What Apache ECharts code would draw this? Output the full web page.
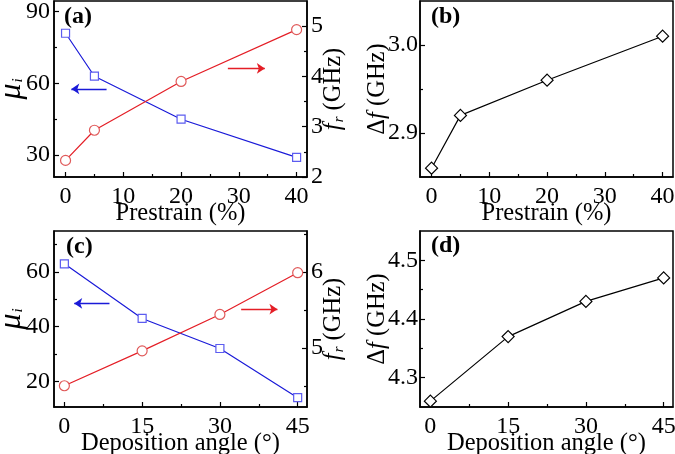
<!DOCTYPE html>
<html><head><meta charset="utf-8">
<script src="https://cdn.jsdelivr.net/npm/echarts@6/dist/echarts.min.js"></script>
<style>html,body{margin:0;padding:0;background:#fff}#c{width:675px;height:454px}</style>
</head><body><div id="c"></div>
<script>
// ---- data ----
const prestrain = [0, 5, 20, 40];
const muA = [81, 63, 45, 29];
const frA = [2.33, 2.93, 3.9, 4.93];
const dfB = [2.86, 2.92, 2.96, 3.01];
const angle = [0, 15, 30, 45];
const muC = [63, 43, 32, 14];
const frC = [4.5, 4.96, 5.44, 5.99];
const dfD = [4.26, 4.37, 4.43, 4.47];
// tick labels
const xTicksA = [0, 10, 20, 30, 40], xMinorA = [5, 15, 25, 35];
const yTicksA = [30, 60, 90], yMinorA = [45, 75];
const rTicksA = [2, 3, 4, 5], rMinorA = [2.5, 3.5, 4.5];
const yTicksB = [2.9, 3.0], yMinorB = [2.95];
const xTicksC = [0, 15, 30, 45], xMinorC = [7.5, 22.5, 37.5];
const yTicksC = [20, 40, 60], yMinorC = [30, 50, 70];
const rTicksC = [5, 6], rMinorC = [4.5, 5.5, 6.5];
const yTicksD = [4.3, 4.4, 4.5], yMinorD = [4.35, 4.45];

const FONT = 'Liberation Serif';
const BLUE = '#1a1ad8', BLUE_M = '#5c5cf0', RED = '#e41e26', RED_M = '#e05a5a';

function pair(xs, ys) { return xs.map((x, i) => [x, ys[i]]); }

const grids = [
  {left: 54, right: 368, top: 1, bottom: 277},
  {left: 420, right: 2, top: 1, bottom: 277},
  {left: 54, right: 368, top: 231, bottom: 47},
  {left: 420, right: 2, top: 231, bottom: 47}
].map(g => Object.assign({show: true, containLabel: false, outerBoundsMode: 'none',
  borderColor: '#000', borderWidth: 1.5, backgroundColor: 'transparent'}, g));

const xAxis = [], yAxis = [];
function mainAxis(type, grid, min, max, ticks, opts) {
  const a = Object.assign({
    type: 'value', gridIndex: grid, min: min, max: max,
    splitLine: {show: false},
    axisLine: {show: true, onZero: false, lineStyle: {color: '#000', width: 1.5}},
    axisTick: {show: true, inside: true, length: 5, customValues: ticks, lineStyle: {color: '#000', width: 1.2}},
    axisLabel: {show: true, customValues: ticks, color: '#000', fontFamily: FONT, fontSize: 24,
      margin: type === 'x' ? 8 : 4,
      formatter: v => (opts && opts.dec) ? v.toFixed(opts.dec) : String(v)},
    nameLocation: 'middle', nameMoveOverlap: false
  }, opts || {});
  (type === 'x' ? xAxis : yAxis).push(a);
  return (type === 'x' ? xAxis : yAxis).length - 1;
}
function minorAxis(type, grid, min, max, ticks, pos) {
  const a = {
    type: 'value', gridIndex: grid, min: min, max: max, position: pos,
    splitLine: {show: false}, axisLine: {show: false, onZero: false},
    axisLabel: {show: false},
    axisTick: {show: true, inside: true, length: 3, customValues: ticks, lineStyle: {color: '#000', width: 1.2}}
  };
  (type === 'x' ? xAxis : yAxis).push(a);
}
const nameStyle = {color: '#000', fontFamily: FONT, fontSize: 24.5};
const richSub = {
  n: {fontFamily: FONT, fontSize: 24.5, color: '#000'},
  i: {fontFamily: FONT, fontSize: 24.5, fontStyle: 'italic', color: '#000'},
  mu: {fontFamily: FONT, fontSize: 32, fontStyle: 'italic', color: '#000'},
  s: {fontFamily: FONT, fontSize: 15, fontStyle: 'italic', color: '#000', padding: [12, 0, 0, 1]}
};
const XGAP = 24;

// Panel (a)
const xa = mainAxis('x', 0, -2, 41.8, xTicksA, {position: 'bottom', name: 'Prestrain (%)', nameGap: XGAP, nameTextStyle: nameStyle});
minorAxis('x', 0, -2, 41.8, xMinorA, 'bottom');
const ya = mainAxis('y', 0, 20.8, 94.5, yTicksA, {position: 'left', name: '{mu|μ}{s|i}', nameGap: 26, nameRotate: 90, nameTextStyle: {rich: richSub}});
minorAxis('y', 0, 20.8, 94.5, yMinorA, 'left');
const ra = mainAxis('y', 0, 2, 5.5, rTicksA, {position: 'right', name: '{i|f}{s|r}{n| (GHz)}', nameGap: 13, nameRotate: 90, nameTextStyle: {rich: richSub}});
minorAxis('y', 0, 2, 5.5, rMinorA, 'right');
// Panel (b)
const xb = mainAxis('x', 1, -2, 41.8, xTicksA, {position: 'bottom', name: 'Prestrain (%)', nameGap: XGAP, nameTextStyle: nameStyle});
minorAxis('x', 1, -2, 41.8, xMinorA, 'bottom');
const yb = mainAxis('y', 1, 2.85, 3.05, yTicksB, {position: 'left', dec: 1, name: '{n|Δ}{i|f}{n| (GHz)}', nameGap: 30, nameRotate: 90, nameTextStyle: {rich: richSub}});
yAxis[yb].axisLabel.margin = 2;
minorAxis('y', 1, 2.85, 3.05, yMinorB, 'left');
// Panel (c)
const xc = mainAxis('x', 2, -2, 46.8, xTicksC, {position: 'bottom', name: 'Deposition angle (°)', nameGap: XGAP, nameTextStyle: nameStyle});
minorAxis('x', 2, -2, 46.8, xMinorC, 'bottom');
const yc = mainAxis('y', 2, 10.6, 75, yTicksC, {position: 'left', name: '{mu|μ}{s|i}', nameGap: 26, nameRotate: 90, nameTextStyle: {rich: richSub}});
minorAxis('y', 2, 10.6, 75, yMinorC, 'left');
const rc = mainAxis('y', 2, 4.22, 6.54, rTicksC, {position: 'right', name: '{i|f}{s|r}{n| (GHz)}', nameGap: 13, nameRotate: 90, nameTextStyle: {rich: richSub}});
minorAxis('y', 2, 4.22, 6.54, rMinorC, 'right');
// Panel (d)
const xd = mainAxis('x', 3, -2, 46.8, xTicksC, {position: 'bottom', name: 'Deposition angle (°)', nameGap: XGAP, nameTextStyle: nameStyle});
minorAxis('x', 3, -2, 46.8, xMinorC, 'bottom');
const yd = mainAxis('y', 3, 4.25, 4.55, yTicksD, {position: 'left', dec: 1, name: '{n|Δ}{i|f}{n| (GHz)}', nameGap: 30, nameRotate: 90, nameTextStyle: {rich: richSub}});
yAxis[yd].axisLabel.margin = 2;
minorAxis('y', 3, 4.25, 4.55, yMinorD, 'left');

function arrowLine(from, to, color) {
  return {silent: true, symbol: ['none', 'arrow'], symbolSize: 8, label: {show: false},
    itemStyle: {color: color},
    lineStyle: {color: color, width: 1.3, type: 'solid', opacity: 1},
    emphasis: {disabled: true},
    data: [[{coord: from, lineStyle: {color: color}}, {coord: to, itemStyle: {color: color}}]]};
}
function ser(xi, yi, data, color, mcolor, symbol, size, mark) {
  const s = {type: 'line', xAxisIndex: xi, yAxisIndex: yi, data: data, symbol: symbol, symbolSize: size,
    color: color,
    lineStyle: {color: color, width: 1.2}, itemStyle: {color: '#fff', borderColor: mcolor, borderWidth: 1.2},
    z: 3, animation: false};
  if (mark) s.markLine = mark;
  return s;
}

const series = [
  ser(xa, ya, pair(prestrain, muA), BLUE, BLUE_M, 'rect', 8, arrowLine([7.1, 57.7], [1.0, 57.7], BLUE)),
  ser(xa, ra, pair(prestrain, frA), RED, RED_M, 'circle', 10, arrowLine([28.1, 4.16], [34.5, 4.16], RED)),
  ser(xb, yb, pair(prestrain, dfB), '#000', '#000', 'diamond', 12),
  ser(xc, yc, pair(angle, muC), BLUE, BLUE_M, 'rect', 8, arrowLine([8.7, 48.5], [1.9, 48.5], BLUE)),
  ser(xc, rc, pair(angle, frC), RED, RED_M, 'circle', 10, arrowLine([34.1, 5.51], [41.1, 5.51], RED)),
  ser(xd, yd, pair(angle, dfD), '#000', '#000', 'diamond', 12)
];

const labelStyle = {fill: '#000', font: 'bold 24px "Liberation Serif"'};
const graphic = [
  {type: 'text', left: 64, top: 5, style: Object.assign({text: '(a)'}, labelStyle)},
  {type: 'text', left: 431, top: 5, style: Object.assign({text: '(b)'}, labelStyle)},
  {type: 'text', left: 66, top: 235, style: Object.assign({text: '(c)'}, labelStyle)},
  {type: 'text', left: 431, top: 234, style: Object.assign({text: '(d)'}, labelStyle)}
];

const chart = echarts.init(document.getElementById('c'), null, {renderer: 'canvas'});
chart.setOption({animation: false, grid: grids, xAxis: xAxis, yAxis: yAxis, series: series, graphic: graphic});
</script></body></html>
